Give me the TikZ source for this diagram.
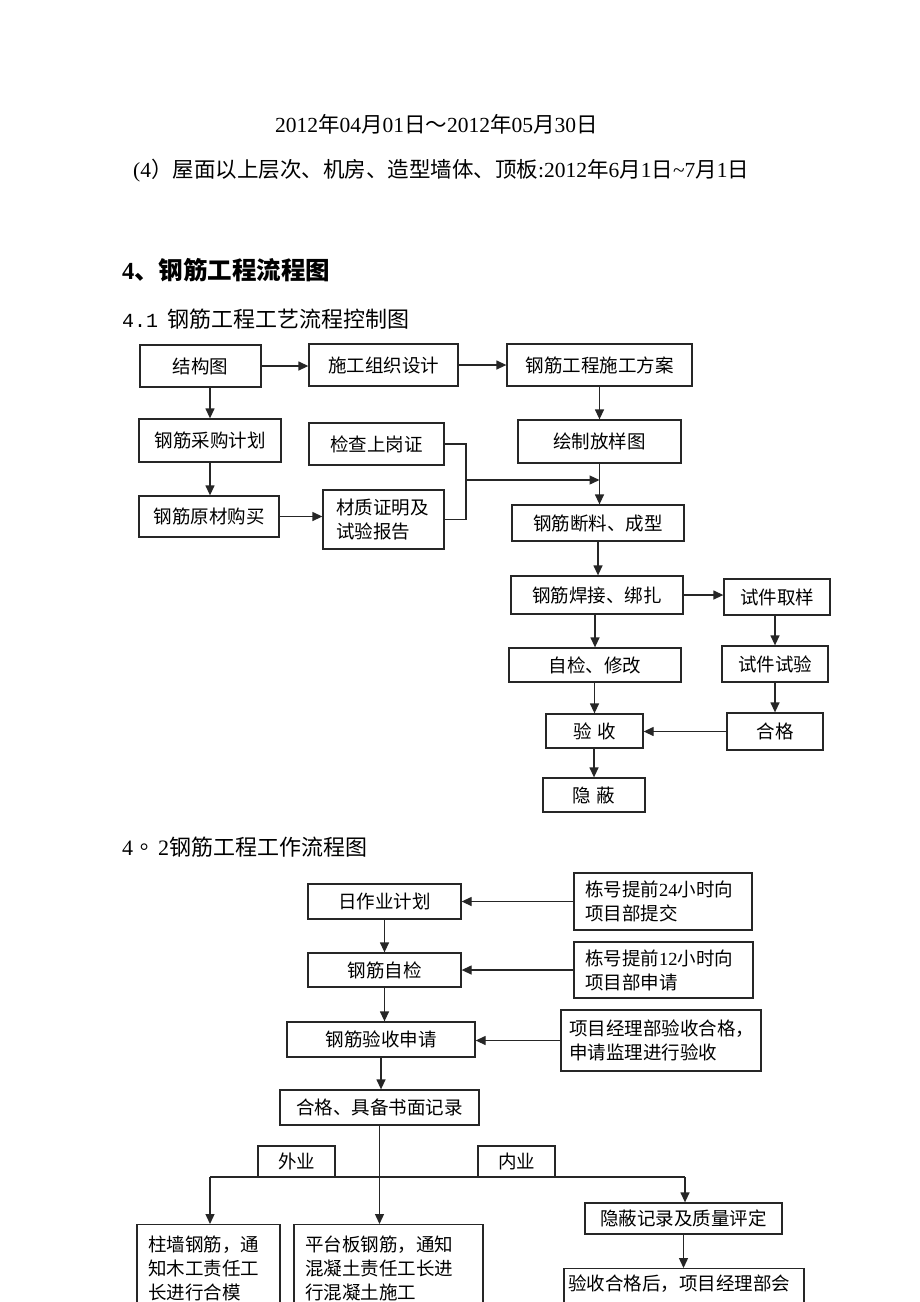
\documentclass[tikz,border=0pt]{standalone}
\usepackage{fontspec}
\setmainfont{Liberation Serif}
\setmonofont{Liberation Mono}
\newfontfamily\cjk{Noto Sans CJK SC}
\newfontfamily\cjktc{Noto Sans CJK TC}
\newcommand{\zh}[1]{{\cjk #1}}
\usetikzlibrary{arrows.meta}
\tikzset{
  box/.style={draw=black!85, line width=1.3pt, inner sep=0pt, font=\cjk\fontsize{18.5}{24}\selectfont},
  note/.style={box, align=left, inner xsep=11pt},
  arr/.style={draw=black!85, line width=1.3pt, -{Triangle[length=10pt,width=9pt]}},
  bar/.style={draw=black!85, line width=1.3pt},
  head/.style={anchor=west, inner sep=0pt, font=\fontsize{21.5}{26}\selectfont},
}

\begin{document}
\begin{tikzpicture}[x=1pt, y=-1pt]
  \useasboundingbox (0,0) rectangle (920,1302);
  \fill[white] (0,0) rectangle (920,1302);
  \clip (0,0) rectangle (920,1302);

  \node[head] (t1) at (275,124) {2012\zh{年}04\zh{月}01\zh{日～}2012\zh{年}05\zh{月}30\zh{日}};
  \node[head] (t2) at (133,171) {(4\zh{）屋面以上层次、机房、造型墙体、顶板}:2012\zh{年}6\zh{月}1\zh{日}\textasciitilde7\zh{月}1\zh{日}};
  \node[head, font=\bfseries\fontsize{24.5}{28}\selectfont] (h4) at (122,270) {4\zh{、钢筋工程流程图}};
  \node[head, font=\fontsize{22}{26}\selectfont] (h41) at (122,319) {{\ttfamily\fontsize{20}{24}\selectfont 4.1}\hspace{9pt}\zh{钢筋工程工艺流程控制图}};
  \node[head, font=\fontsize{22}{26}\selectfont] (h42) at (122,847) {4{\cjktc 。}\hspace{3pt}2\zh{钢筋工程工作流程图}};

  \node[box, minimum width=121pt, minimum height=42pt] (jgt) at (200.5,366) {结构图};
  \node[box, minimum width=149pt, minimum height=42pt] (sgzz) at (383.5,365) {施工组织设计};
  \node[box, minimum width=185pt, minimum height=42pt] (gjfa) at (599.5,365) {钢筋工程施工方案};
  \node[box, minimum width=142pt, minimum height=43pt] (cgjh) at (210,440.5) {钢筋采购计划};
  \node[box, minimum width=135pt, minimum height=42pt] (jcsg) at (376.5,444) {检查上岗证};
  \node[box, minimum width=140pt, minimum height=41pt] (ycgm) at (209,516.5) {钢筋原材购买};
  \node[note, inner xsep=13pt, text width=95pt, minimum height=59pt] (czzm) at (383.5,519.5) {材质证明及\\试验报告};
  \node[box, minimum width=163pt, minimum height=43pt] (hzfy) at (599.5,441.5) {绘制放样图};
  \node[box, minimum width=172pt, minimum height=36pt] (dlcx) at (598,523) {钢筋断料、成型};
  \node[box, minimum width=172pt, minimum height=38pt] (hjbz) at (597,595) {钢筋焊接、绑扎};
  \node[box, minimum width=106pt, minimum height=36pt] (sjqy) at (777,597) {试件取样};
  \node[box, minimum width=172pt, minimum height=34pt] (zjxg) at (595,665) {自检、修改};
  \node[box, minimum width=106pt, minimum height=36pt] (sjsy) at (775,664) {试件试验};
  \node[box, minimum width=97pt, minimum height=34pt] (ys) at (594.5,731) {验\hspace{6pt}收};
  \node[box, minimum width=96pt, minimum height=37pt] (hg) at (775,731.5) {合格};
  \node[box, minimum width=102pt, minimum height=34pt] (yb) at (594,795) {隐\hspace{6pt}蔽};
  \coordinate (hb) at (466,480);

  \draw[arr] (jgt.east) -- (jgt.east -| sgzz.west);
  \draw[arr] (sgzz.east) -- (sgzz.east -| gjfa.west);
  \draw[arr] (jgt.south -| cgjh) -- (cgjh.north);
  \draw[arr] (cgjh) -- (cgjh |- ycgm.north);
  \draw[arr] (ycgm) -- (ycgm -| czzm.west);
  \draw[bar] (jcsg.east) -| (hb) |- (czzm.east);
  \draw[arr] (hb) -- (hb -| hzfy.south);
  \draw[arr] (gjfa) -- (hzfy);
  \draw[arr] (hzfy.south) -- (hzfy.south |- dlcx.north);
  \draw[arr] (dlcx) -- (dlcx |- hjbz.north);
  \draw[arr] (hjbz) -- (hjbz -| sjqy.west);
  \draw[arr] (zjxg |- hjbz.south) -- (zjxg.north);
  \draw[arr] (sjsy |- sjqy.south) -- (sjsy.north);
  \draw[arr] (sjsy) -- (sjsy |- hg.north);
  \draw[arr] (ys |- zjxg.south) -- (ys.north);
  \draw[arr] (hg) -- (hg -| ys.east);
  \draw[arr] (yb |- ys.south) -- (yb.north);

  \node[box, minimum width=153pt, minimum height=35pt] (rzy) at (384.5,901.5) {日作业计划};
  \node[note, text width=156pt, minimum height=57pt] (dh24) at (663,901.5) {栋号提前{\rmfamily 24}小时向\\项目部提交};
  \node[box, minimum width=153pt, minimum height=34pt] (gjzj) at (384.5,970) {钢筋自检};
  \node[note, text width=157pt, minimum height=56pt] (dh12) at (663.5,970) {栋号提前{\rmfamily 12}小时向\\项目部申请};
  \node[box, minimum width=188pt, minimum height=35pt] (ysq) at (381,1039.5) {钢筋验收申请};
  \node[note, inner xsep=8pt, text width=184pt, minimum height=61pt] (xmjl) at (661,1040.5) {项目经理部验收合格，\\申请监理进行验收};
  \node[box, minimum width=199pt, minimum height=35pt] (hgjl) at (379.5,1107.5) {合格、具备书面记录};
  \node[box, minimum width=77pt, minimum height=31pt] (wy) at (296.5,1161.5) {外业};
  \node[box, minimum width=77pt, minimum height=31pt] (ny) at (516.5,1161.5) {内业};
  \node[box, minimum width=197pt, minimum height=31pt] (ybjl) at (683.5,1218.5) {隐蔽记录及质量评定};
  \node[note, anchor=north, text width=121pt, inner ysep=11pt, text depth=100pt] (zq) at (208.5,1224) {柱墙钢筋，通\\知木工责任工\\长进行合模};
  \node[note, anchor=north, text width=167pt, inner ysep=11pt, text depth=100pt] (ptb) at (388.5,1224) {平台板钢筋，通知\\混凝土责任工长进\\行混凝土施工};
  \node[note, anchor=north, inner xsep=4pt, text width=232pt, inner ysep=6pt, text depth=100pt] (yshg) at (684,1268) {验收合格后，项目经理部会};
  \coordinate (fl) at (210,1177);
  \coordinate (fr) at (685,1177);

  \draw[arr] (dh24) -- (dh24 -| rzy.east);
  \draw[arr] (dh12) -- (dh12 -| gjzj.east);
  \draw[arr] (xmjl) -- (xmjl -| ysq.east);
  \draw[arr] (rzy) -- (gjzj);
  \draw[arr] (gjzj) -- (gjzj |- ysq.north);
  \draw[arr] (ysq) -- (ysq |- hgjl.north);
  \draw[arr] (hgjl) -- (hgjl |- ptb.north);
  \draw[bar] (fl) -- (fr);
  \draw[arr] (fl) -- (fl |- zq.north);
  \draw[arr] (fr) -- (fr |- ybjl.north);
  \draw[arr] (ybjl) -- (ybjl |- yshg.north);
\end{tikzpicture}
\end{document}
